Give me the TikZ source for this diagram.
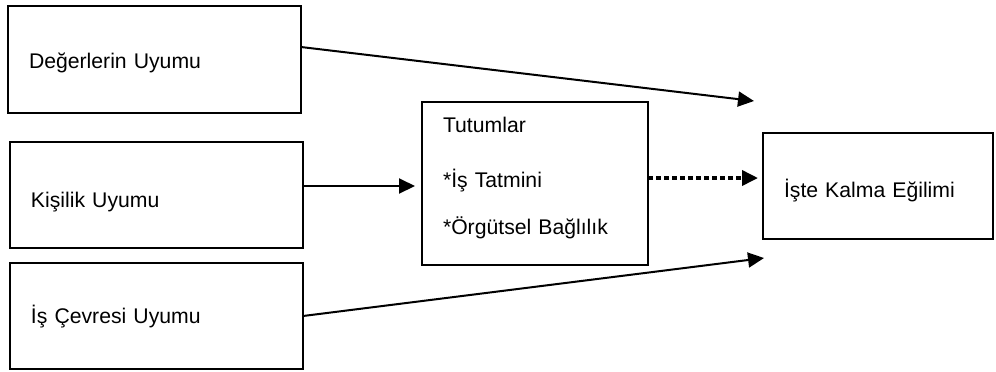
\documentclass[tikz,border=0pt]{standalone}
\usepackage{fontspec}
\setmainfont{Liberation Sans}
\usetikzlibrary{positioning,calc,arrows.meta}
\tikzset{ubox/.style={draw, line width=1pt, outer sep=0pt, inner xsep=10.5pt, inner ysep=0pt, align=left, font=\fontsize{10.6pt}{12.7pt}\selectfont}}
\tikzset{leftbox/.style={ubox, minimum width=146.5pt, minimum height=53pt, text width=125.5pt, text height=7.6pt, text depth=0pt}}
\tikzset{arr/.style={draw, line width=1pt, -{Triangle[length=8pt, width=7.5pt]}}}
\tikzset{arrdot/.style={arr, line width=1.8pt, dash pattern=on 2.3pt off 1.7pt}}

\begin{document}
\begin{tikzpicture}
	\useasboundingbox (0,0) rectangle (498pt,-185.5pt);
	%
	\node[leftbox, minimum height=53.5pt, text height=8.9pt] (deger) at (77.25pt,-29.75pt) {Değerlerin Uyumu};
	\node[leftbox, below=14.5pt of deger, xshift=1pt, text height=12.3pt] (kisilik) {Kişilik Uyumu};
	\node[leftbox, below=7.5pt of kisilik] (cevre) {İş Çevresi Uyumu};
	%
	\node[ubox, minimum width=113pt, minimum height=81.5pt, text width=92pt,
		right=59.5pt of kisilik, yshift=5.75pt] (tutum)
		{\raisebox{2.5pt}[\height][\depth]{\begin{tabular}{@{}l@{}}Tutumlar\\[14.3pt]
		*İş Tatmini\\[10.65pt] *Örgütsel Bağlılık\end{tabular}}};
	\node[ubox, minimum width=115pt, minimum height=53pt, text width=94pt,
		text height=11.9pt, text depth=0pt, right=57.5pt of tutum, yshift=-1.25pt] (kalma)
		{İşte Kalma Eğilimi};
	%
	\coordinate (tipA) at ($(kalma.north west)+(-4.5pt,16pt)$);
	\coordinate (tipB) at ($(kalma.south west)+(0.5pt,-9.5pt)$);
	%
	\draw[arr] ([yshift=6.25pt]deger.east) -- (tipA);
	\draw[arr, shorten >=3.5pt] ([yshift=4.5pt]kisilik.east) -- ([yshift=4.5pt]kisilik.east -| tutum.west);
	\draw[arrdot, shorten >=2.5pt] ([yshift=2.75pt]tutum.east) -- ([yshift=2.75pt]tutum.east -| kalma.west);
	\draw[arr] (cevre.east) -- (tipB);
\end{tikzpicture}
\end{document}
